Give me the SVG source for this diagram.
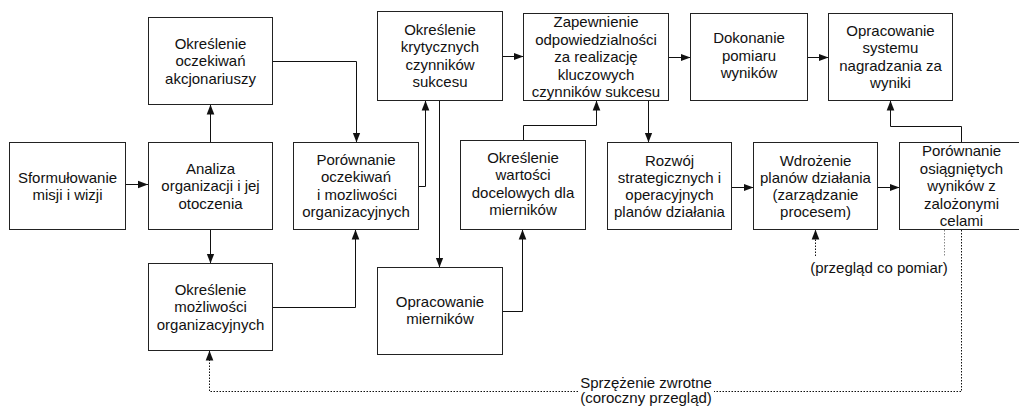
<svg xmlns="http://www.w3.org/2000/svg" width="1019" height="407" viewBox="0 0 1019 407">
<style>
.box{fill:#fff;stroke:#222;stroke-width:1}
.t{font-family:"Liberation Sans",Arial,sans-serif;font-size:15px;fill:#111;text-anchor:middle}
.c{fill:none;stroke:#111;stroke-width:1}
.d{fill:none;stroke:#111;stroke-width:1;stroke-dasharray:1.5,1.5}
.dg{fill:none;stroke:#888;stroke-width:1;stroke-dasharray:1.5,1.5}
</style>
<defs>
<marker id="a" markerUnits="userSpaceOnUse" markerWidth="10" markerHeight="10" viewBox="0 0 10 10" refX="10" refY="5" orient="auto">
<path d="M0,1.2 L10,5 L0,8.8 Z" fill="#111"/>
</marker>
</defs>
<rect width="1019" height="407" fill="#fff"/>
<g id="connectors">
<path class="c" d="M126,184.5 H148" marker-end="url(#a)"/>
<path class="c" d="M210.5,142.5 V104.5" marker-end="url(#a)"/>
<path class="c" d="M272.5,61.5 H356.5 V142.5" marker-end="url(#a)"/>
<path class="c" d="M210.5,229.5 V263.5" marker-end="url(#a)"/>
<path class="c" d="M272.5,307.5 H355.5 V229.5" marker-end="url(#a)"/>
<path class="c" d="M418.5,186.5 H425.5 V100.5" marker-end="url(#a)"/>
<path class="c" d="M439.5,100.5 V267.5" marker-end="url(#a)"/>
<path class="c" d="M502.5,311.5 H522.5 V229.5" marker-end="url(#a)"/>
<path class="c" d="M523.5,140.5 V125.5 H596.5 V100.5" marker-end="url(#a)"/>
<path class="c" d="M502.5,56.5 H523.5" marker-end="url(#a)"/>
<path class="c" d="M668.5,57.5 H690.5" marker-end="url(#a)"/>
<path class="c" d="M807.5,57.5 H828.5" marker-end="url(#a)"/>
<path class="c" d="M648.5,100.5 V142.5" marker-end="url(#a)"/>
<path class="c" d="M731.5,187.5 H753.5" marker-end="url(#a)"/>
<path class="c" d="M877.5,187.5 H899.5" marker-end="url(#a)"/>
<path class="c" d="M961.5,142.5 V126.5 H890.5 V100.5" marker-end="url(#a)"/>
<path class="dg" d="M944.5,230 V256"/>
<path class="d" d="M815.5,256 V229.5" marker-end="url(#a)"/>
<path class="d" d="M961.5,230 V391.5 H714"/>
<path class="d" d="M578,391.5 H209.5 V350.5" marker-end="url(#a)"/>
</g>
<g id="sform"><rect class="box" x="9.5" y="142.5" width="116" height="87"/>
<text class="t" x="67.5" y="182.5">Sformułowanie</text><text class="t" x="67.5" y="200">misji i wizji</text></g>
<g id="analiza"><rect class="box" x="148.5" y="142.5" width="124" height="87"/>
<text class="t" x="210.5" y="173.5">Analiza</text><text class="t" x="210.5" y="191">organizacji i jej</text><text class="t" x="210.5" y="208.5">otoczenia</text></g>
<g id="oczek"><rect class="box" x="148.5" y="17.5" width="124" height="87"/>
<text class="t" x="210.5" y="48.5">Określenie</text><text class="t" x="210.5" y="66">oczekiwań</text><text class="t" x="210.5" y="83.5">akcjonariuszy</text></g>
<g id="mozliw"><rect class="box" x="148.5" y="263.5" width="124" height="87"/>
<text class="t" x="210.5" y="294.5">Określenie</text><text class="t" x="210.5" y="312">możliwości</text><text class="t" x="210.5" y="329.5">organizacyjnych</text></g>
<g id="porown"><rect class="box" x="293.5" y="142.5" width="125" height="87"/>
<text class="t" x="356" y="164.5">Porównanie</text><text class="t" x="356" y="182">oczekiwań</text><text class="t" x="357" y="199.5">i mozliwości</text><text class="t" x="356" y="217">organizacyjnych</text></g>
<g id="kryt"><rect class="box" x="377.5" y="11.5" width="125" height="89"/>
<text class="t" x="440" y="34.5">Określenie</text><text class="t" x="440" y="52">krytycznych</text><text class="t" x="440" y="69.5">czynników</text><text class="t" x="440" y="87">sukcesu</text></g>
<g id="miern"><rect class="box" x="377.5" y="267.5" width="125" height="87"/>
<text class="t" x="440" y="306.5">Opracowanie</text><text class="t" x="440" y="324">mierników</text></g>
<g id="wartosci"><rect class="box" x="460.5" y="140.5" width="125" height="89"/>
<text class="t" x="523" y="162.5">Określenie</text><text class="t" x="523" y="180">wartości</text><text class="t" x="523" y="197.5">docelowych dla</text><text class="t" x="523" y="215">mierników</text></g>
<g id="zapew"><rect class="box" x="523.5" y="13.5" width="145" height="87"/>
<text class="t" x="596" y="27">Zapewnienie</text><text class="t" x="596" y="44.5">odpowiedzialności</text><text class="t" x="596" y="62">za realizację</text><text class="t" x="596" y="79.5">kluczowych</text><text class="t" x="596" y="97">czynników sukcesu</text></g>
<g id="dokon"><rect class="box" x="690.5" y="13.5" width="117" height="87"/>
<text class="t" x="749" y="43">Dokonanie</text><text class="t" x="749" y="60.5">pomiaru</text><text class="t" x="749" y="78">wyników</text></g>
<g id="system"><rect class="box" x="828.5" y="13.5" width="124" height="87"/>
<text class="t" x="890.5" y="35.5">Opracowanie</text><text class="t" x="890.5" y="53">systemu</text><text class="t" x="890.5" y="70.5">nagradzania za</text><text class="t" x="890.5" y="88">wyniki</text></g>
<g id="rozwoj"><rect class="box" x="607.5" y="142.5" width="124" height="87"/>
<text class="t" x="669.5" y="166">Rozwój</text><text class="t" x="669.5" y="183">strategicznych i</text><text class="t" x="669.5" y="200">operacyjnych</text><text class="t" x="669.5" y="217">planów działania</text></g>
<g id="wdroz"><rect class="box" x="753.5" y="142.5" width="124" height="87"/>
<text class="t" x="815.5" y="166">Wdrożenie</text><text class="t" x="815.5" y="183">planów działania</text><text class="t" x="815.5" y="200">(zarządzanie</text><text class="t" x="815.5" y="217">procesem)</text></g>
<g id="porown2"><rect class="box" x="899.5" y="142.5" width="125" height="87"/>
<text class="t" x="961.5" y="156">Porównanie</text><text class="t" x="961.5" y="173.5">osiągniętych</text><text class="t" x="961.5" y="191">wyników z</text><text class="t" x="961.5" y="208.5">zalożonymi</text><text class="t" x="961.5" y="226">celami</text></g>
<g id="labels">
<text class="t" x="879" y="273">(przegląd co pomiar)</text>
<text class="t" x="646" y="388">Sprzężenie zwrotne</text>
<text class="t" x="646" y="403">(coroczny przegląd)</text>
</g>
</svg>
